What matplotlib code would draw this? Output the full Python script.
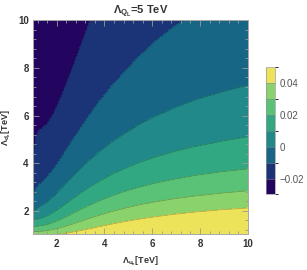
import numpy as np
import matplotlib
matplotlib.use("Agg")
import matplotlib.pyplot as plt
from matplotlib.colors import ListedColormap, BoundaryNorm
from matplotlib.ticker import MultipleLocator
import matplotlib.colorbar as mcb

# grid nodes (TeV)
lam_ue = [1, 1.13, 1.27, 1.44, 1.62, 1.83, 2.07, 2.34, 2.64, 2.98, 3.36, 3.79, 4.28, 4.83, 5.46, 6.16, 6.95, 7.85, 8.86, 10]
lam_de = [1, 1.13, 1.27, 1.44, 1.62, 1.83, 2.07, 2.34, 2.64, 2.98, 3.36, 3.79, 4.28, 4.83, 5.46, 6.16, 6.95, 7.85, 8.86, 10]

# values, in units of 1e-4; one row per lam_de node, one column per lam_ue node
z_rows_e4 = [
    [363, 371, 370, 372, 378, 388, 401, 416, 430, 443, 455, 465, 473, 480, 486, 490, 493, 495, 496, 497],
    [290, 300, 302, 306, 316, 331, 350, 370, 390, 409, 427, 443, 458, 470, 481, 490, 498, 504, 509, 514],
    [216, 230, 235, 243, 256, 275, 297, 322, 347, 371, 393, 414, 433, 449, 464, 477, 488, 497, 505, 512],
    [142, 160, 168, 179, 195, 216, 242, 270, 298, 326, 352, 376, 399, 419, 437, 452, 466, 478, 488, 498],
    [79, 101, 111, 124, 142, 165, 193, 223, 254, 283, 312, 338, 363, 385, 405, 422, 438, 452, 464, 474],
    [22, 47, 60, 74, 92, 116, 145, 176, 208, 239, 269, 297, 323, 346, 368, 387, 404, 419, 432, 444],
    [-28, 0, 14, 28, 46, 71, 100, 131, 163, 195, 225, 254, 281, 305, 328, 347, 365, 381, 395, 407],
    [-70, -40, -26, -12, 5, 29, 57, 88, 120, 152, 182, 211, 238, 263, 286, 306, 324, 340, 354, 367],
    [-106, -74, -61, -48, -31, -9, 18, 49, 80, 111, 141, 169, 196, 221, 243, 263, 281, 298, 312, 325],
    [-136, -104, -91, -80, -65, -44, -18, 11, 41, 71, 100, 128, 154, 179, 201, 221, 239, 255, 269, 282],
    [-162, -130, -118, -108, -95, -76, -52, -25, 4, 33, 61, 88, 114, 138, 160, 179, 197, 213, 227, 239],
    [-185, -153, -143, -134, -123, -106, -84, -58, -31, -3, 24, 50, 75, 98, 119, 138, 155, 171, 185, 197],
    [-205, -174, -164, -158, -149, -134, -114, -90, -64, -38, -12, 13, 37, 59, 80, 99, 115, 130, 144, 156],
    [-223, -192, -184, -180, -172, -160, -141, -119, -95, -70, -45, -21, 2, 23, 43, 61, 77, 92, 105, 117],
    [-238, -208, -202, -199, -194, -183, -167, -147, -124, -101, -77, -54, -32, -12, 8, 25, 41, 55, 68, 79],
    [-251, -222, -217, -217, -214, -205, -190, -172, -151, -129, -106, -84, -63, -43, -25, -8, 7, 21, 33, 44],
    [-263, -235, -231, -233, -231, -224, -212, -195, -175, -154, -133, -112, -92, -73, -55, -39, -24, -11, 1, 11],
    [-273, -246, -244, -247, -248, -242, -231, -216, -198, -178, -158, -138, -119, -101, -83, -68, -54, -41, -29, -19],
    [-282, -256, -255, -260, -262, -259, -249, -235, -219, -200, -181, -162, -143, -126, -109, -94, -81, -68, -57, -47],
    [-290, -265, -265, -272, -275, -273, -265, -253, -237, -220, -202, -183, -166, -149, -133, -118, -105, -93, -82, -73],
]

contour_levels = [-0.02, -0.01, 0.0, 0.01, 0.02, 0.03, 0.04]
legend_bounds = [-0.03, -0.02, -0.01, 0.0, 0.01, 0.02, 0.03, 0.04, 0.05]
legend_ticks = [-0.02, 0, 0.02, 0.04]
legend_labels = ['\u22120.02', '0', '0.02', '0.04']
x_ticks = [2, 4, 6, 8, 10]
y_ticks = [2, 4, 6, 8, 10]

colors = ['#23045f', '#1b3478', '#176686', '#21898a', '#32a882', '#5ac277', '#8ad36c', '#ece35b']

plt.rcParams['font.family'] = 'Liberation Sans'
plt.rcParams['mathtext.fontset'] = 'custom'
plt.rcParams['mathtext.rm'] = 'Liberation Sans:bold'
plt.rcParams['mathtext.it'] = 'Liberation Sans:bold'
plt.rcParams['mathtext.bf'] = 'Liberation Sans:bold'

gx, gy = np.meshgrid(lam_ue, lam_de)
Z = np.array(z_rows_e4, dtype=float) * 1e-4

levels = [-1] + contour_levels + [1]
cmap = ListedColormap(colors)
norm = BoundaryNorm(levels, cmap.N)

fig = plt.figure(figsize=(3.07, 2.70), dpi=100)
ax = fig.add_axes([0.107, 0.1315, 0.700, 0.793])
ax.contourf(gx, gy, Z, levels=levels, cmap=cmap, norm=norm)
ax.contour(gx, gy, Z, levels=contour_levels, colors='k', linewidths=0.5, alpha=0.3)
ax.set_xlim(1, 10); ax.set_ylim(1, 10)
ax.set_xticks(x_ticks); ax.set_yticks(y_ticks)
ax.xaxis.set_minor_locator(MultipleLocator(0.4)); ax.yaxis.set_minor_locator(MultipleLocator(0.4))
ax.tick_params(which='both', direction='in', top=True, right=True, color='#9a9a9a', width=0.6)
ax.tick_params(which='major', length=4, labelsize=7, labelcolor='#333333', pad=3)
ax.tick_params(which='minor', length=2)
for lab in ax.get_xticklabels() + ax.get_yticklabels():
    lab.set_fontweight('bold')
for s in ax.spines.values():
    s.set_color('#a8a8a8'); s.set_linewidth(0.7)
ax.set_title(r'$\Lambda_{Q_L}$=5 TeV', fontsize=8, fontweight='bold', color='#333333', pad=4)
ax.set_xlabel(r'$\Lambda_{u_e}$[TeV]', fontsize=6.5, fontweight='bold', color='#333333')
ax.set_ylabel(r'$\Lambda_{d_e}$[TeV]', fontsize=6.5, fontweight='bold', color='#333333')
ax.xaxis.set_label_coords(0.5, -0.095)
ax.yaxis.set_label_coords(-0.092, 0.5)

cax = fig.add_axes([0.866, 0.280, 0.030, 0.470])
cb = mcb.ColorbarBase(cax, cmap=cmap, norm=BoundaryNorm(legend_bounds, len(colors)),
                      boundaries=legend_bounds, ticks=legend_ticks, drawedges=True)
cb.set_ticklabels(legend_labels)
cb.outline.set_edgecolor('#999999'); cb.outline.set_linewidth(0.5)
cb.dividers.set_color('#888888'); cb.dividers.set_linewidth(0.4)
cax.tick_params(length=0, labelsize=7, labelcolor='#555555', pad=3)

plt.savefig('out.png', dpi=100)
